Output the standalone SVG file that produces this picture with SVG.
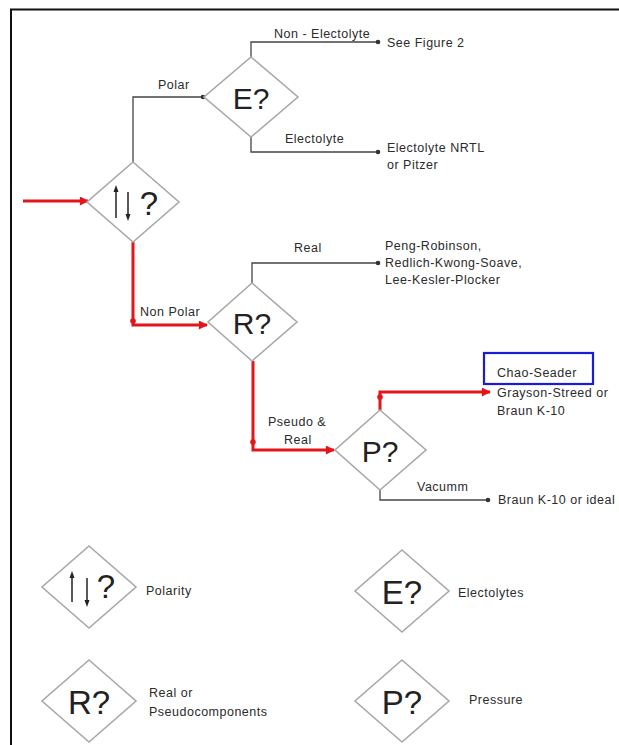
<svg xmlns="http://www.w3.org/2000/svg" width="619" height="745" viewBox="0 0 619 745">
<style>
.dia{fill:#fff;stroke:#a8a8a8;stroke-width:1.6}
.sym{font-family:"Liberation Sans",Arial,sans-serif;fill:#222;text-anchor:middle;dominant-baseline:central}
.lbl{font-family:"Liberation Sans",Arial,sans-serif;font-size:12.5px;fill:#2b2b2b;letter-spacing:0.5px;dominant-baseline:central}
.con{fill:none;stroke:#444;stroke-width:1.3;marker-end:url(#dot)}
.red{fill:none;stroke:#e3141b;stroke-width:3;marker-end:url(#redArrow)}
.pl{stroke:#222;stroke-width:1.5}
.ph{fill:#222}
.rd{fill:#e3141b}
</style>
<defs>
<marker id="dot" viewBox="0 0 6 6" refX="3" refY="3" markerWidth="6" markerHeight="6" markerUnits="userSpaceOnUse"><circle cx="3" cy="3" r="2.3" fill="#333"/></marker>
<marker id="redArrow" viewBox="0 0 10 10" refX="9" refY="5" markerWidth="10" markerHeight="9" markerUnits="userSpaceOnUse" orient="auto"><path d="M0,0 L10,5 L0,10 z" fill="#e3141b"/></marker>
</defs>

<g id="frame">
<line x1="10" y1="9.5" x2="619" y2="9.5" stroke="#111" stroke-width="2"/>
<line x1="11" y1="9" x2="11" y2="745" stroke="#111" stroke-width="2"/>
</g>

<g id="connectors">
<path class="con" d="M133,162 V97 H203"/>
<path class="con" d="M251,57 V42 H378"/>
<path class="con" d="M251,137 V152 H378"/>
<path class="con" d="M252,283 V263 H378"/>
<path class="con" d="M380,490 V500 H488"/>
<path class="red" d="M23,201 H88"/>
<path class="red" d="M133,242 V325 H207"/>
<path class="red" d="M253,361 V450 H334"/>
<path class="red" d="M380,410 V392 H490"/>
<circle class="rd" cx="133" cy="321" r="2.8"/>
<circle class="rd" cx="253" cy="442" r="2.8"/>
<circle class="rd" cx="380" cy="397" r="2.8"/>
<text class="lbl" x="158" y="85">Polar</text>
<text class="lbl" x="274" y="34">Non - Electolyte</text>
<text class="lbl" x="285" y="139">Electolyte</text>
<text class="lbl" x="294" y="248">Real</text>
<text class="lbl" x="140" y="312">Non Polar</text>
<text class="lbl" x="268" y="422">Pseudo &amp;</text>
<text class="lbl" x="284" y="440">Real</text>
<text class="lbl" x="417" y="487">Vacumm</text>
</g>

<g id="node-polarity">
<polygon class="dia" points="133,162 179,202 133,242 87,202"/>
<line class="pl" x1="116" y1="190" x2="116" y2="218"/>
<polygon class="ph" points="116,185 113.5,192 118.5,192"/>
<line class="pl" x1="128" y1="192" x2="128" y2="215"/>
<polygon class="ph" points="128,221 125.5,214 130.5,214"/>
<text class="sym" x="149" y="203" font-size="33">?</text>
</g>

<g id="node-electrolyte">
<polygon class="dia" points="251,57 298,97 251,137 204,97"/>
<text class="sym" x="251" y="98" font-size="30">E?</text>
</g>

<g id="node-real">
<polygon class="dia" points="252,283 297,322 252,361 208,322"/>
<text class="sym" x="252" y="323" font-size="30">R?</text>
</g>

<g id="node-pressure">
<polygon class="dia" points="380,410 426,450 380,490 335,450"/>
<text class="sym" x="380" y="451" font-size="30">P?</text>
</g>

<g id="out-see-figure">
<text class="lbl" x="387" y="43">See Figure 2</text>
</g>
<g id="out-electrolyte-nrtl">
<text class="lbl" x="387" y="148">Electolyte NRTL</text>
<text class="lbl" x="387" y="165">or Pitzer</text>
</g>
<g id="out-peng">
<text class="lbl" x="385" y="246">Peng-Robinson,</text>
<text class="lbl" x="385" y="263">Redlich-Kwong-Soave,</text>
<text class="lbl" x="385" y="280">Lee-Kesler-Plocker</text>
</g>
<g id="out-chao">
<rect x="484" y="353" width="109" height="31" fill="none" stroke="#1a1ad8" stroke-width="2.2"/>
<text class="lbl" x="497" y="373">Chao-Seader</text>
<text class="lbl" x="497" y="393">Grayson-Streed or</text>
<text class="lbl" x="497" y="411">Braun K-10</text>
</g>
<g id="out-braun">
<text class="lbl" x="498" y="500">Braun K-10 or ideal</text>
</g>

<g id="legend-polarity">
<polygon class="dia" points="89,546 136,587 89,628 42,587"/>
<line class="pl" x1="72" y1="576" x2="72" y2="602"/>
<polygon class="ph" points="72,571 69.5,578 74.5,578"/>
<line class="pl" x1="87" y1="578" x2="87" y2="602"/>
<polygon class="ph" points="87,607 84.5,600 89.5,600"/>
<text class="sym" x="106" y="586" font-size="33">?</text>
<text class="lbl" x="146" y="591">Polarity</text>
</g>
<g id="legend-electrolyte">
<polygon class="dia" points="402,550 449,591 402,632 355,591"/>
<text class="sym" x="402" y="592" font-size="33">E?</text>
<text class="lbl" x="458" y="593">Electolytes</text>
</g>
<g id="legend-real">
<polygon class="dia" points="89,660 136,701 89,742 42,701"/>
<text class="sym" x="89" y="702" font-size="33">R?</text>
<text class="lbl" x="149" y="693">Real or</text>
<text class="lbl" x="149" y="712">Pseudocomponents</text>
</g>
<g id="legend-pressure">
<polygon class="dia" points="402,660 449,701 402,742 355,701"/>
<text class="sym" x="402" y="702" font-size="33">P?</text>
<text class="lbl" x="469" y="700">Pressure</text>
</g>
</svg>
